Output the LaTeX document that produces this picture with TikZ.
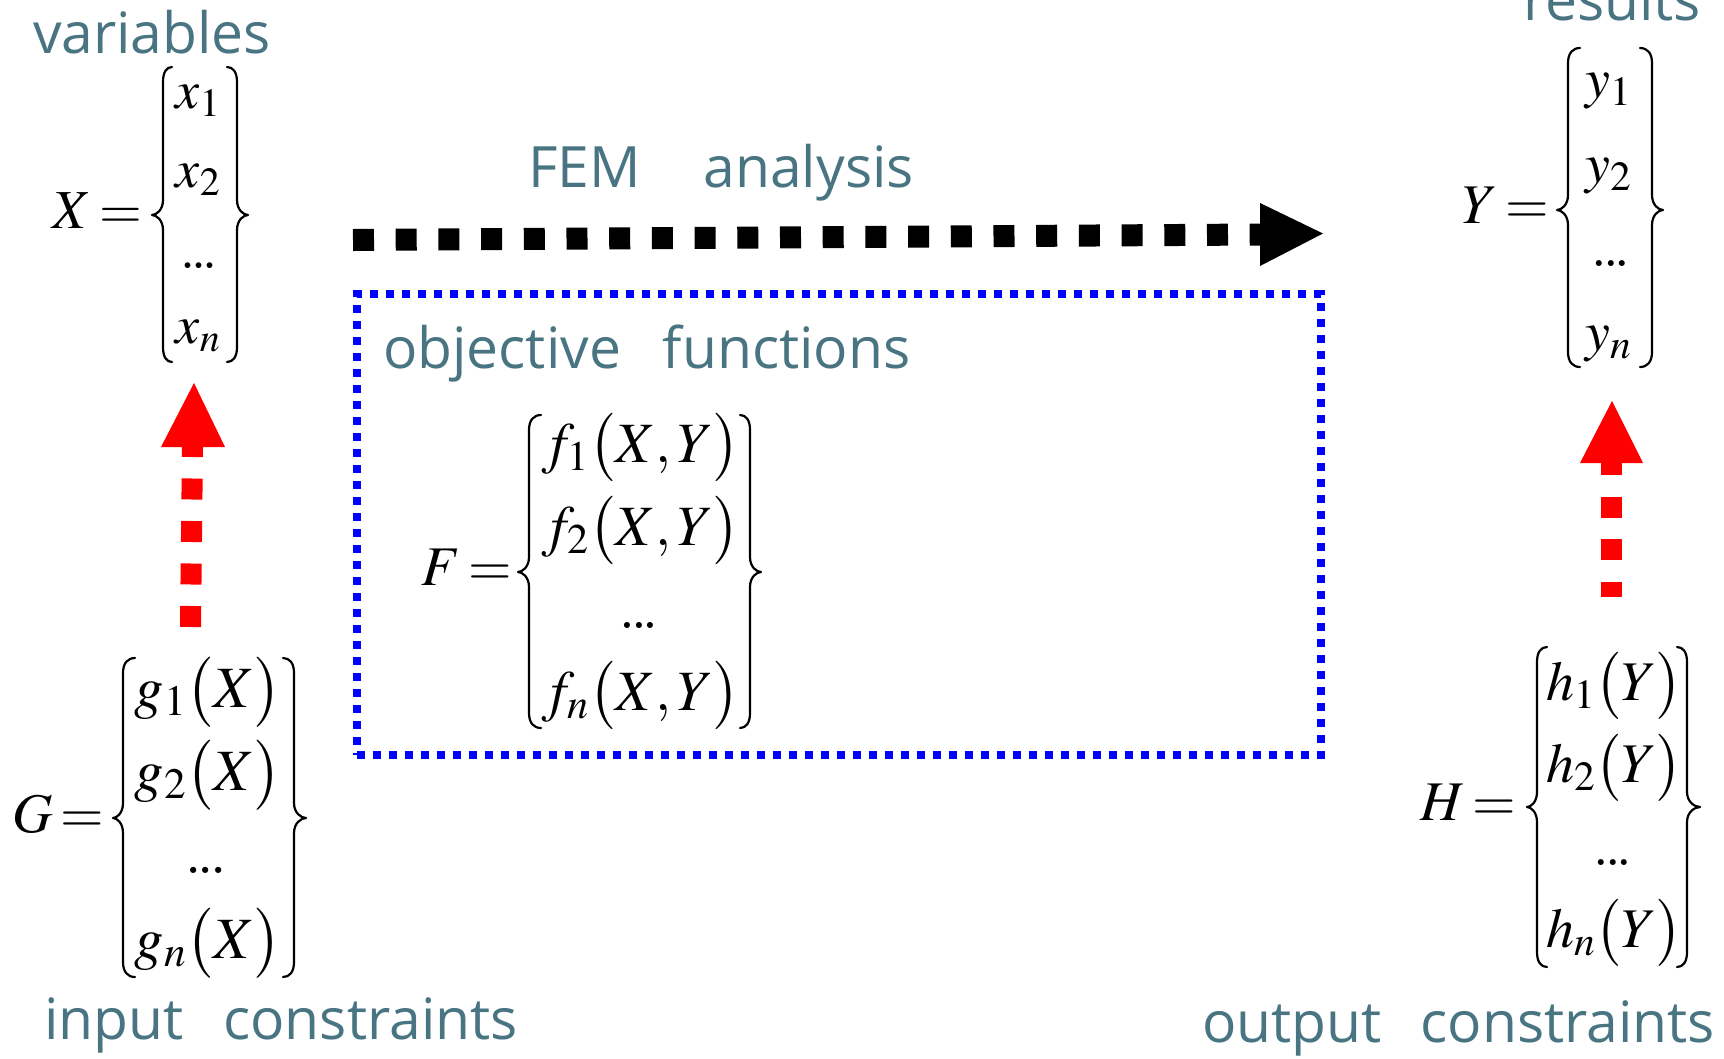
\documentclass[tikz,border=0pt]{standalone}
\usepackage{mathptmx}
\usepackage[no-math]{fontspec}
\newfontfamily\labfont{Open Sans}
\definecolor{labc}{RGB}{73,116,130}
\definecolor{redc}{RGB}{255,0,0}
\definecolor{bluec}{RGB}{0,0,255}
% brace: cusp x, stem x, hook x, top y, middle y, bottom y
\newcommand\brc[6]{%
\draw[brc] (#3,#4) .. controls ({0.6*#2+0.4*#3},#4) and (#2,#4+5) .. (#2,#4+15)
 -- (#2,#5-15) .. controls (#2,#5-5) and ({0.6*#1+0.4*#2},#5) .. (#1,#5)
 .. controls ({0.6*#1+0.4*#2},#5) and (#2,#5+5) .. (#2,#5+15)
 -- (#2,#6-15) .. controls (#2,#6-5) and ({0.6*#2+0.4*#3},#6) .. (#3,#6);}
\newcommand\dotsrow{$.\kern-4pt.\kern-4pt.$}
\begin{document}
\begin{tikzpicture}[x=1pt,y=-1pt,
  every node/.style={inner sep=0pt,outer sep=0pt},
  lab/.style={text=labc,font=\labfont\fontsize{57}{60}\selectfont,anchor=base west},
  lhs/.style={anchor=base east,font=\fontsize{56}{66}\selectfont},
  lhss/.style={anchor=base east,font=\fontsize{55}{64}\selectfont},
  row/.style={anchor=base,font=\fontsize{56}{66}\selectfont},
  rowb/.style={anchor=base,font=\fontsize{58.5}{68}\selectfont},
  rowf/.style={anchor=base,font=\fontsize{57}{66}\selectfont},
  rows/.style={anchor=base,font=\fontsize{54}{64}\selectfont},
  brc/.style={line width=2.2pt,line cap=round,line join=round},
  femline/.style={line width=22pt,dash pattern=on 21pt off 21.7pt},
  redline/.style={redc,line width=21pt,dash pattern=on 21pt off 21.5pt},
  objbox/.style={draw=bluec,line width=8pt,dash pattern=on 8pt off 8pt,minimum width=964pt,minimum height=461pt}]
\useasboundingbox (0,0) rectangle (1724,1058);

% labels
\node[lab] (lvar) at (33,53) {variables};
\node[lab] (lres) at (1523,20) {results};
\node[lab] (lfem) at (528,187) {FEM\hspace{63pt}analysis};
\node[lab] (lobj) at (383,368) {objective\hspace{42pt}functions};
\node[lab] (lin) at (44,1039) {input\hspace{40pt}constraints};
\node[lab] (lout) at (1202,1042) {output\hspace{39pt}constraints};

% objective box
\node[objbox] (box) at (839,524.5) {};

% X vector
\node[lhss] (Xl) at (142,228) {$X\mkern-1.5mu=$};
\brc{152}{163}{172}{67}{215}{362}
\node[rows] (X1) at (198,108) {$x_1$};
\node[rows] (X2) at (198,187) {$x_2$};
\node[rows] (X3) at (199,268) {\dotsrow};
\node[rows] (X4) at (198,343) {$x_n$};
\brc{248}{237}{227}{67}{215}{362}

% Y vector
\node[lhs] (Yl) at (1549,223) {$Y\mkern-1.5mu=$};
\brc{1557}{1568}{1580}{48}{210}{367}
\node[row] (Y1) at (1609,97) {$y_1$};
\node[row] (Y2) at (1609,182) {$y_2$};
\node[row] (Y3) at (1611,266) {\dotsrow};
\node[row] (Y4) at (1609,350) {$y_n$};
\brc{1663}{1652}{1640}{48}{210}{367}

% G vector
\node[lhs] (Gl) at (104,832) {$G\mkern-1.5mu=$};
\brc{113}{123}{135}{658}{818}{977}
\node[rowb] (G1) at (208,707) {$g_1\big(X\big)$};
\node[rowb] (G2) at (208,790) {$g_2\big(X\big)$};
\node[rowb] (G3) at (206,873) {\dotsrow};
\node[rowb] (G4) at (208,958) {$g_n\big(X\big)$};
\brc{306}{294}{283}{658}{818}{977}

% F vector
\node[lhs] (Fl) at (512,585) {$F\mkern-1.5mu=$};
\brc{518}{529}{541}{415}{572}{728}
\node[rowf] (F1) at (641,462) {$f_1\big(X,Y\big)$};
\node[rowf] (F2) at (641,545) {$f_2\big(X,Y\big)$};
\node[rowf] (F3) at (639,628) {\dotsrow};
\node[rowf] (F4) at (641,710) {$f_n\big(X,Y\big)$};
\brc{761}{750}{740}{415}{572}{728}

% H vector
\node[lhs] (Hl) at (1516,820) {$H\mkern-1.5mu=$};
\brc{1527}{1537}{1547}{647}{807}{967}
\node[row] (H1) at (1614,700) {$h_1\big(Y\big)$};
\node[row] (H2) at (1614,782) {$h_2\big(Y\big)$};
\node[row] (H3) at (1613,865) {\dotsrow};
\node[row] (H4) at (1614,947) {$h_n\big(Y\big)$};
\brc{1700}{1687}{1677}{647}{807}{967}

% FEM arrow
\coordinate (fa) at (353,240);
\coordinate (fb) at (1260,234.5);
\draw[femline] (fa) -- (fb);
\fill ([yshift=31.5pt]fb) -- ([xshift=63pt,yshift=1pt]fb) -- ([yshift=-31.5pt]fb) -- cycle;

% left red arrow
\coordinate (la) at (190.5,627);
\coordinate (lb) at (192.5,447);
\draw[redline,dash phase=11pt] (lb) -- (la);
\fill[redc] ([xshift=-31.5pt]lb) -- ([xshift=1.5pt,yshift=64pt]lb) -- ([xshift=32.5pt]lb) -- cycle;

% right red arrow
\coordinate (ra) at (1611.5,597);
\coordinate (rb) at (1611.5,463);
\draw[redline,dash phase=9pt] (rb) -- (ra);
\fill[redc] ([xshift=-31.5pt]rb) -- ([xshift=0.5pt,yshift=62pt]rb) -- ([xshift=31.5pt]rb) -- cycle;
\end{tikzpicture}
\end{document}
